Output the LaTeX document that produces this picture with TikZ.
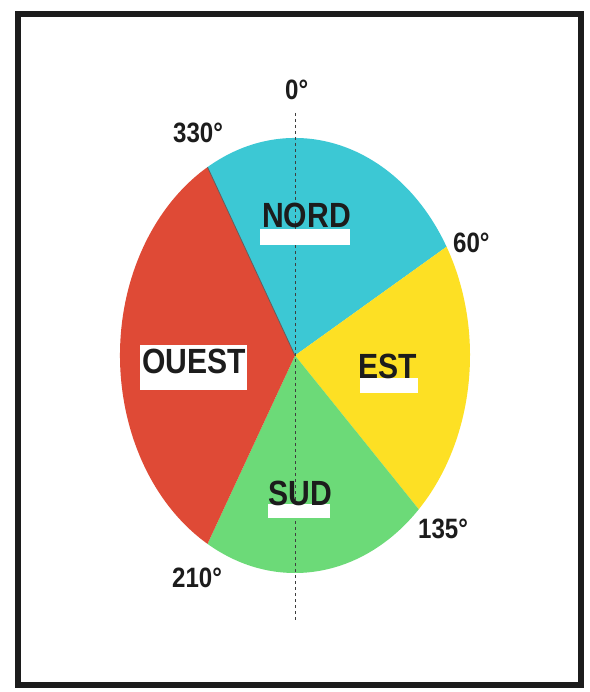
\documentclass[tikz,border=0pt]{standalone}
\usepackage{fontspec}
\usepackage{graphicx}
\newfontfamily\condfont[FakeStretch=0.86]{Liberation Sans}
\usetikzlibrary{calc}
\definecolor{nordc}{HTML}{3CC8D4}
\definecolor{ouestc}{HTML}{DF4A36}
\definecolor{estc}{HTML}{FDE024}
\definecolor{sudc}{HTML}{6CDA78}
\definecolor{inkc}{HTML}{1C1C1C}
\tikzset{
  bigl/.style={anchor=base west, inner sep=0pt, text=inkc, font=\condfont\bfseries\fontsize{35}{35}\selectfont},
  degl/.style={anchor=base west, inner sep=0pt, text=inkc, font=\condfont\bfseries\fontsize{28}{28}\selectfont},
  wbox/.style={fill=white, draw=none},
}
\begin{document}
\begin{tikzpicture}[x=1pt,y=-1pt]
\useasboundingbox (0,0) rectangle (589,692);
\fill[white] (0,0) rectangle (589,692);
\draw[line width=6pt, inkc] (18,14) rectangle (581,685);
\coordinate (c) at (295,355.5);
% wedges
\fill[nordc] (c) -- ($(c)+(-120:175 and 217.5)$) arc[start angle=-120, end angle=-30, x radius=175, y radius=217.5] -- cycle;
\fill[estc] (c) -- ($(c)+(-30:175 and 217.5)$) arc[start angle=-30, end angle=45, x radius=175, y radius=217.5] -- cycle;
\fill[sudc] (c) -- ($(c)+(45:175 and 217.5)$) arc[start angle=45, end angle=120, x radius=175, y radius=217.5] -- cycle;
\fill[ouestc] (c) -- ($(c)+(120:175 and 217.5)$) arc[start angle=120, end angle=240, x radius=175, y radius=217.5] -- cycle;
\coordinate (p330) at ($(c)+(-120:175 and 217.5)$);
\draw[inkc!70, line width=0.8pt] (c) -- (p330);
% dashed axis
\coordinate (atop) at (295,113);
\coordinate (abot) at (295,622);
\draw[inkc!85, line width=1pt, dash pattern=on 3pt off 3pt] (atop) -- (abot);
% white boxes
\fill[wbox] (260,229) rectangle (350,245);
\fill[wbox] (140,345) rectangle (247,390);
\fill[wbox] (360,378) rectangle (418,393);
\fill[wbox] (268,504) rectangle (330,518);
% labels
\node[bigl] (nord) at (262,228) {NORD};
\node[bigl] (ouest) at (142,373) {OUEST};
\node[bigl] (est) at (358,378) {EST};
\node[bigl] (sud) at (268,505) {SUD};
% degree labels
\node[degl] (l0) at (285,100) {0°};
\node[degl] (l330) at (173,143) {330°};
\node[degl] (l60) at (453,252) {60°};
\node[degl] (l135) at (418,538) {135°};
\node[degl] (l210) at (172,587) {210°};
\end{tikzpicture}
\end{document}
